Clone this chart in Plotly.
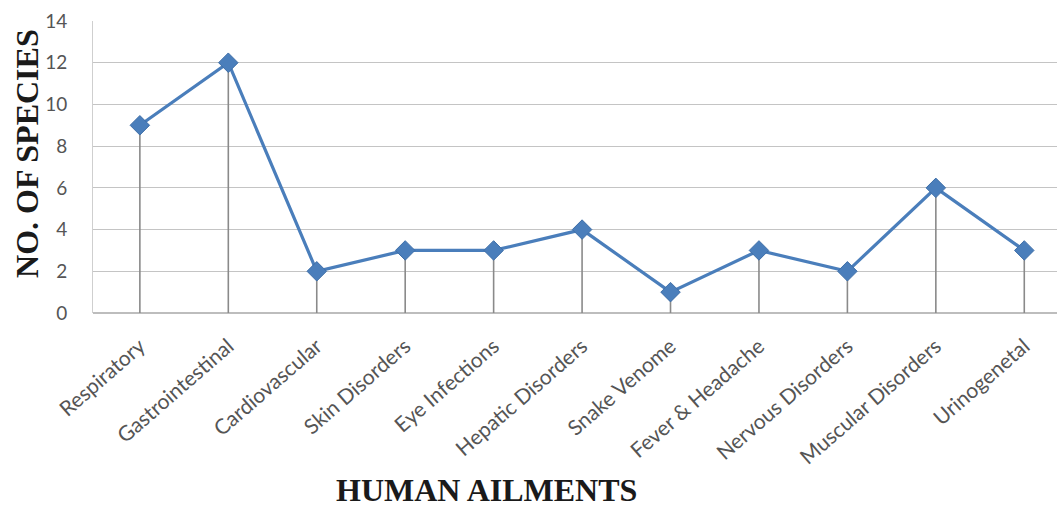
import plotly.graph_objects as go

# Number of species used for each category of human ailment
ailments = [
    "Respiratory", "Gastrointestinal", "Cardiovascular", "Skin Disorders",
    "Eye Infections", "Hepatic Disorders", "Snake Venome", "Fever & Headache",
    "Nervous Disorders", "Muscular Disorders", "Urinogenetal",
]
species = [9, 12, 2, 3, 3, 4, 1, 3, 2, 6, 3]
y_ticks = [0, 2, 4, 6, 8, 10, 12, 14]

idx = list(range(len(ailments)))
line_color = "#4A7EBB"
font_family = "Lato, Calibri, Arial, sans-serif"

fig = go.Figure()

# Drop lines from each point down to the category axis
fig.add_trace(go.Scatter(
    x=idx, y=species, mode="markers",
    marker=dict(size=1, opacity=0),
    error_y=dict(type="data", symmetric=False,
                 array=[0] * len(species), arrayminus=species,
                 width=0, thickness=1.6, color="#8A8A8A"),
    hoverinfo="skip", showlegend=False,
))

# Main series
fig.add_trace(go.Scatter(
    x=idx, y=species, mode="lines+markers",
    line=dict(color=line_color, width=3.2),
    marker=dict(symbol="diamond", size=15, color=line_color,
                line=dict(color="#3F6FA8", width=1)),
    showlegend=False,
))

fig.update_layout(
    width=1057, height=507,
    margin=dict(l=93, r=0, t=21, b=194),
    paper_bgcolor="white", plot_bgcolor="white",
    xaxis=dict(
        range=[-0.53, 10.37],
        tickmode="array", tickvals=idx, ticktext=ailments,
        tickangle=-41,
        tickfont=dict(family=font_family, size=21, color="#555555"),
        showgrid=False, zeroline=False, showline=False,
        ticks="", ticklabelstandoff=16,
    ),
    yaxis=dict(
        range=[0, 14],
        tickmode="array", tickvals=y_ticks,
        tickfont=dict(family=font_family, size=19, color="#555555"),
        showgrid=True, gridcolor="#C4C4C4", gridwidth=1,
        zeroline=True, zerolinecolor="#BDBDBD", zerolinewidth=1.5,
        showline=True, linecolor="#CFCFCF", linewidth=1,
        ticks="", ticklabelstandoff=21,
    ),
    annotations=[
        dict(text="<b>NO. OF SPECIES</b>", textangle=-90,
             xref="paper", yref="paper", x=-0.0685, y=0.548,
             xanchor="center", yanchor="middle", showarrow=False,
             font=dict(family="Liberation Serif, Times New Roman, serif",
                       size=32, color="#1A1A1A")),
        dict(text="<b>HUMAN AILMENTS</b>",
             xref="paper", yref="paper", x=0.408, y=-0.607,
             xanchor="center", yanchor="middle", showarrow=False,
             font=dict(family="Liberation Serif, Times New Roman, serif",
                       size=32, color="#1A1A1A")),
    ],
)

fig.write_html("out.html")
